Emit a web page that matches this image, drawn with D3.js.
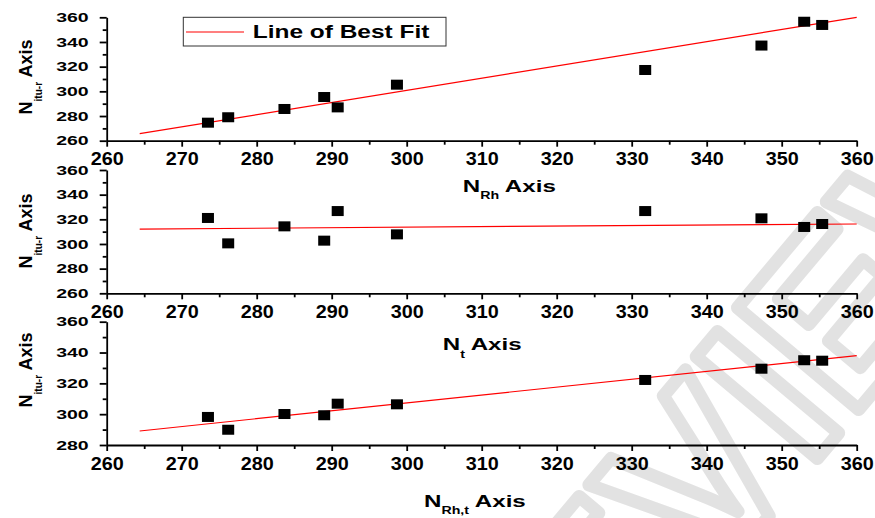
<!DOCTYPE html>
<html>
<head>
  <meta charset="UTF-8">
  <style>
    body { margin: 0; background: #fff; }
    text { font-family: "Liberation Sans", Arial, sans-serif; font-weight: bold; }
  </style>
</head>
<body>
  <svg></svg>
  <script src="https://d3js.org/d3.v7.min.js"></script>
  <script>
    // values
    let xVals = [273.5, 276.2, 283.7, 289.0, 290.8, 298.7, 331.8, 347.3, 353.0, 355.4];
    let yRh = [274.6, 279.0, 285.7, 295.4, 287.0, 305.4, 317.3, 337.1, 356.4, 353.8];
    let yT = [321.1, 300.5, 314.3, 302.7, 326.7, 307.8, 326.7, 320.8, 313.8, 316.2];
    let yRhT = [298.2, 289.9, 300.1, 299.3, 306.8, 306.4, 322.2, 329.5, 335.0, 334.7];
    let fitX = [264.4, 360];
    let fitRh = [265.7, 360.0];
    let fitT = [312.1, 316.2];
    let fitRhT = [289.1, 338.0];
    let xTicks = [260, 270, 280, 290, 300, 310, 320, 330, 340, 350, 360];

    let width = 875, height = 518;
    let svg = d3.select("svg").attr("width", width).attr("height", height);

    // watermark
    svg.append("text")
      .attr("transform", "translate(405,950) rotate(-50)")
      .style("font-size", "230px")
      .attr("fill", "none")
      .attr("stroke", "#e2e2e2")
      .attr("stroke-width", 13)
      .attr("stroke-linejoin", "round")
      .text("PREVIEW");

    let x = d3.scaleLinear().domain([260, 360]).range([106.7, 856.7]);

    let panels = [
      { ys: yRh, fit: fitRh, dom: [260, 360], top: 17.3, bot: 140.7, yTitleY: 77, xTitle: ["N", "Rh", " Axis"], xtx: 462.7, xty: 191.7 },
      { ys: yT, fit: fitT, dom: [260, 360], top: 170, bot: 293.3, yTitleY: 231, xTitle: ["N", "t", " Axis"], xtx: 442.7, xty: 350 },
      { ys: yRhT, fit: fitRhT, dom: [280, 360], top: 321.7, bot: 445, yTitleY: 370, xTitle: ["N", "Rh,t", " Axis"], xtx: 424, xty: 506.7 }
    ];

    panels.forEach(p => {
      let y = d3.scaleLinear().domain(p.dom).range([p.bot, p.top]);
      let g = svg.append("g");

      // minor ticks
      g.append("g").attr("transform", "translate(0," + p.bot + ")")
        .call(d3.axisBottom(x).tickValues(d3.range(265, 360, 10)).tickSize(4).tickFormat(""))
        .call(a => a.select(".domain").remove());
      g.append("g").attr("transform", "translate(" + x.range()[0] + ",0)")
        .call(d3.axisLeft(y).tickValues(d3.range(p.dom[0] + 10, 360, 20)).tickSize(4).tickFormat(""))
        .call(a => a.select(".domain").remove());

      let xa = g.append("g").attr("transform", "translate(0," + p.bot + ")")
        .call(d3.axisBottom(x).tickValues(xTicks).tickSize(6).tickPadding(6).tickSizeOuter(0));
      xa.selectAll("text").style("font-size", "18px").attr("fill", "#000")
        .attr("transform", "scale(1.1,1)");

      let ya = g.append("g").attr("transform", "translate(" + x.range()[0] + ",0)")
        .call(d3.axisLeft(y).tickValues(d3.range(p.dom[0], 361, 20)).tickSize(7).tickPadding(5).tickSizeOuter(0));
      ya.selectAll("text").style("font-size", "13px").attr("fill", "#000")
        .attr("transform", "scale(1.5,1)");

      g.selectAll(".domain, .tick line").attr("stroke", "#000").attr("stroke-width", 1.8);

      // best fit
      g.append("path")
        .datum(fitX.map((v, i) => [v, p.fit[i]]))
        .attr("d", d3.line().x(d => x(d[0])).y(d => y(d[1])))
        .attr("fill", "none").attr("stroke", "#ff0000").attr("stroke-width", 1.2);

      // markers
      g.selectAll("rect.pt").data(xVals.map((v, i) => [v, p.ys[i]])).enter()
        .append("rect").attr("class", "pt")
        .attr("x", d => x(d[0]) - 6).attr("y", d => y(d[1]) - 5)
        .attr("width", 12).attr("height", 10).attr("fill", "#000");

      // y title
      let yt = svg.append("text")
        .attr("transform", "translate(32," + p.yTitleY + ") rotate(-90)")
        .attr("text-anchor", "middle").attr("fill", "#000");
      yt.append("tspan").style("font-size", "18px").text("N");
      yt.append("tspan").style("font-size", "10px").attr("dy", 10).text("itu-r");
      yt.append("tspan").style("font-size", "18px").attr("dy", -10).text(" Axis");

      // x title
      let xt = svg.append("text")
        .attr("transform", "translate(" + p.xtx + "," + p.xty + ") scale(1.42,1)").attr("fill", "#000");
      xt.append("tspan").style("font-size", "17px").text(p.xTitle[0]);
      xt.append("tspan").style("font-size", "10px").attr("dy", 7.5).text(p.xTitle[1]);
      xt.append("tspan").style("font-size", "17px").attr("dy", -7.5).text(p.xTitle[2]);
    });

    // legend
    let lg = svg.append("g");
    lg.append("rect").attr("x", 183.3).attr("y", 17.3).attr("width", 262.7).attr("height", 28.7)
      .attr("fill", "#fff").attr("stroke", "#333").attr("stroke-width", 1);
    lg.append("line").attr("x1", 186).attr("x2", 244).attr("y1", 32).attr("y2", 32)
      .attr("stroke", "#ff0000").attr("stroke-width", 1.2);
    lg.append("text").attr("transform", "translate(252.7,38.3) scale(1.36,1)")
      .style("font-size", "18px").attr("fill", "#000").text("Line of Best Fit");
  </script>
</body>
</html>
